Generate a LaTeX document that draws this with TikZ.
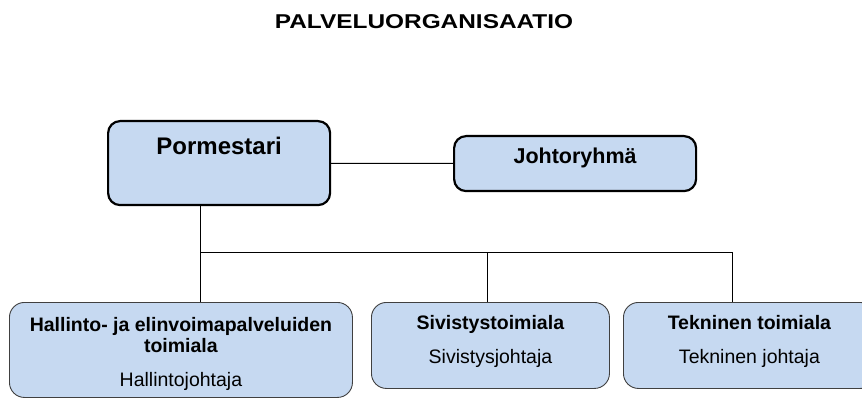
\documentclass[tikz,border=0pt]{standalone}
\usepackage{fontspec}
\setmainfont{Liberation Sans}
\newfontfamily\titlefont{Liberation Sans Bold}[FakeStretch=1.22]
\usetikzlibrary{positioning}

\definecolor{boxblue}{HTML}{C6D9F1}
\definecolor{edgegray}{HTML}{404040}

\tikzset{topbox/.style = {shape = rectangle,
                          rounded corners = 12pt,
                          fill = boxblue,
                          draw = black,
                          line width = 2.2pt,
                          inner sep = 0pt,
                          anchor = north west,
                          font = \bfseries},
         unitbox/.style = {shape = rectangle,
                           rounded corners = 15pt,
                           fill = boxblue,
                           draw = edgegray,
                           line width = 0.9pt,
                           inner sep = 0pt,
                           anchor = north west,
                           align = center,
                           font = \fontsize{19.5}{21}\selectfont},
         link/.style = {draw = black,
                        line width = 1pt}}

\begin{document}
\begin{tikzpicture}[x=1pt, y=-1pt]
		\useasboundingbox (0,0) rectangle (862,398);
		\node[font=\titlefont\fontsize{20}{24}\selectfont, anchor=base] (title) at (424,28.3) {PALVELUORGANISAATIO};
		% johto
		\node[topbox, minimum width=222pt, text height=33pt, text depth=51pt,
		      font=\fontsize{24}{28}\selectfont\bfseries] (pormestari) at (107,120) {Pormestari};
		\node[topbox, minimum width=242pt, text height=27pt, text depth=28pt,
		      font=\fontsize{21.5}{26}\selectfont\bfseries] (johto) at (453,135) {Johtoryhmä};
		% toimialat
		\node[unitbox, minimum width=343pt, minimum height=95pt] (hallinto) at (9,302)
		      {\rule{0pt}{21.5pt}\textbf{Hallinto- ja elinvoimapalveluiden}\\ \textbf{toimiala}\\[13pt] Hallintojohtaja};
		\node[unitbox, minimum width=238pt, minimum height=86pt] (sivistys) at (371,302)
		      {\textbf{Sivistystoimiala}\\[12.5pt] Sivistysjohtaja\rule[-12pt]{0pt}{12pt}};
		\node[unitbox, minimum width=252pt, minimum height=86pt] (tekninen) at (623,302)
		      {\textbf{Tekninen toimiala}\\[12.5pt] Tekninen johtaja\rule[-12pt]{0pt}{12pt}};
		% viivat
		\coordinate (fork) at (200,252);
		\coordinate (forkmid) at (487,252);
		\coordinate (forkend) at (732,252);
		\draw[link] (pormestari) -- (johto);
		\draw[link] (fork |- pormestari.south) -- (fork) -- (forkend) -- (forkend |- tekninen.north);
		\draw[link] (fork) -- (fork |- hallinto.north);
		\draw[link] (forkmid) -- (forkmid |- sivistys.north);
	\end{tikzpicture}
\end{document}
